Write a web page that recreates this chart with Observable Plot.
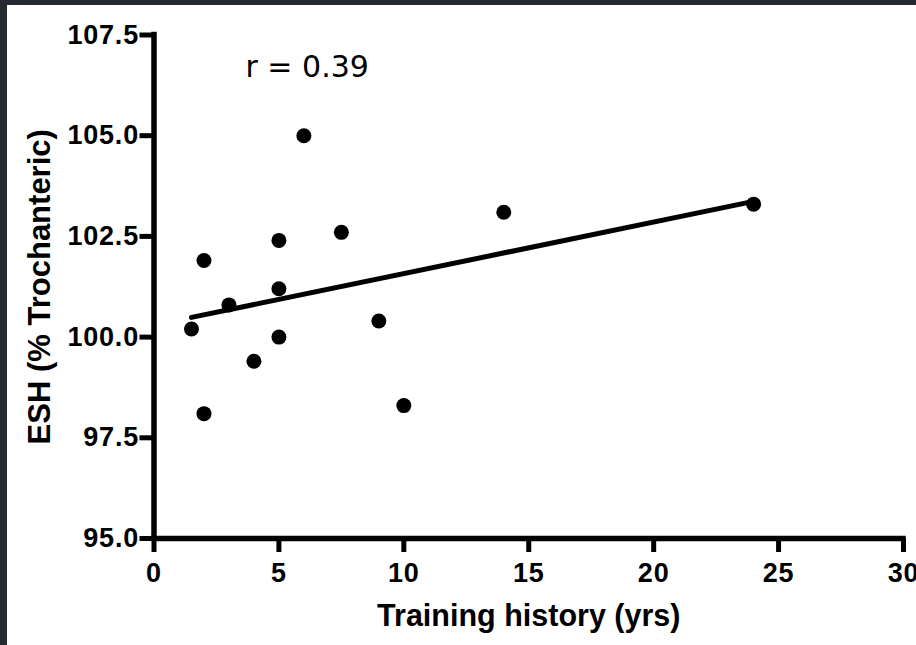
<!DOCTYPE html>
<html>
<head>
<meta charset="utf-8">
<script src="https://cdn.jsdelivr.net/npm/d3@7"></script>
<script src="https://cdn.jsdelivr.net/npm/@observablehq/plot@0.6"></script>
<style>
  html, body { margin: 0; padding: 0; background: #262b33; width: 916px; height: 645px; overflow: hidden; }
  #panel { position: absolute; left: 7px; top: 5px; width: 909px; height: 640px; background: #ffffff; overflow: hidden; }
  #panel svg g[aria-label="y-axis tick label"] text,
  #panel svg g[aria-label="x-axis tick label"] text { letter-spacing: 0.8px; }
</style>
</head>
<body>
<div id="panel"></div>
<script>
// Data
const trainingYears = [6, 5, 7.5, 2, 5, 3, 1.5, 9, 5, 4, 2, 10, 14, 24];
const eshPercent = [105.0, 102.4, 102.6, 101.9, 101.2, 100.8, 100.2, 100.4, 100.0, 99.4, 98.1, 98.3, 103.1, 103.3];
const xTicks = [0, 5, 10, 15, 20, 25, 30];
const yTicks = [95.0, 97.5, 100.0, 102.5, 105.0, 107.5];
const xDomain = [0, 30];
const yDomain = [95, 107.5];
const xTitle = "Training history (yrs)";
const yTitle = "ESH (% Trochanteric)";
const annotation = "r = 0.39";

const points = trainingYears.map((x, i) => ({x, y: eshPercent[i]}));

const tickFont = "'Liberation Sans', Arial, sans-serif";

const chart = Plot.plot({
  width: 909,
  height: 640,
  marginLeft: 146.5,
  marginRight: 13,
  marginTop: 29.5,
  marginBottom: 107,
  style: {background: "white", color: "black", overflow: "hidden"},
  x: {domain: xDomain},
  y: {domain: yDomain},
  marks: [
    Plot.axisX({
      ticks: xTicks,
      tickSize: 14,
      tickPadding: 10,
      strokeWidth: 5,
      label: null,
      fontSize: 27,
      fontWeight: "bold",
      fontFamily: tickFont,
      tickFormat: d => String(d)
    }),
    Plot.axisY({
      ticks: yTicks,
      tickSize: 14,
      tickPadding: 1,
      strokeWidth: 5,
      label: null,
      fontSize: 27,
      fontWeight: "bold",
      fontFamily: tickFont,
      tickFormat: d => d.toFixed(1)
    }),
    Plot.ruleY([yDomain[0]], {stroke: "black", strokeWidth: 5.5, strokeLinecap: "square"}),
    Plot.ruleX([xDomain[0]], {stroke: "black", strokeWidth: 5.5, strokeLinecap: "square"}),
    Plot.linearRegressionY(points, {x: "x", y: "y", ci: 0, stroke: "black", strokeWidth: 5}),
    Plot.dot(points, {x: "x", y: "y", r: 7.5, fill: "black", stroke: "none"}),
    Plot.text([annotation], {
      frameAnchor: "top-left",
      text: d => d,
      textAnchor: "start",
      lineAnchor: "top",
      dx: 91.5,
      dy: 20.5,
      fontSize: 30,
      fontFamily: "'DejaVu Sans', sans-serif",
      fill: "black"
    }),
    Plot.text([xTitle], {
      frameAnchor: "bottom",
      text: d => d,
      textAnchor: "middle",
      lineAnchor: "middle",
      dy: 78,
      fontSize: 30.5,
      fontWeight: "bold",
      fontFamily: tickFont,
      fill: "black"
    }),
    Plot.text([yTitle], {
      frameAnchor: "left",
      text: d => d,
      rotate: -90,
      textAnchor: "middle",
      lineAnchor: "middle",
      dx: -113.5,
      fontSize: 31,
      fontWeight: "bold",
      fontFamily: tickFont,
      fill: "black"
    })
  ]
});

document.getElementById("panel").appendChild(chart);
</script>
</body>
</html>
